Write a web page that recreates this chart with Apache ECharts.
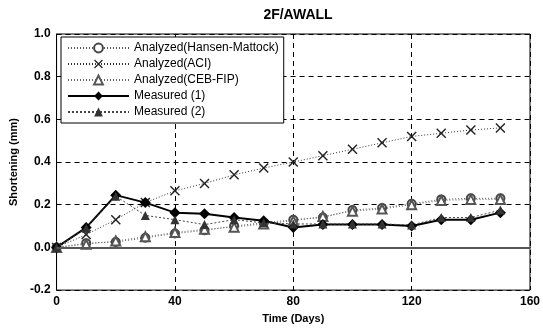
<!DOCTYPE html>
<html><head><meta charset="utf-8">
<script src="https://cdn.jsdelivr.net/npm/echarts@6/dist/echarts.min.js"></script>
<style>html,body{margin:0;padding:0;background:#fff}#c{width:543px;height:329px}</style>
</head><body><div id="c"></div>
<script>
var days = [0,10,20,30,40,50,60,70,80,90,100,110,120,130,140,150];
var hansen = [0,0.02,0.025,0.045,0.065,0.08,0.10,0.115,0.13,0.14,0.175,0.185,0.205,0.225,0.23,0.23];
var aci = [0,0.06,0.13,0.21,0.265,0.30,0.34,0.372,0.40,0.43,0.46,0.49,0.52,0.535,0.55,0.56];
var ceb = [0,0.015,0.03,0.05,0.07,0.085,0.095,0.11,0.125,0.145,0.17,0.18,0.2,0.22,0.225,0.225];
var meas1 = [0,0.093,0.245,0.21,0.163,0.158,0.14,0.125,0.093,0.107,0.107,0.107,0.10,0.13,0.13,0.163];
var meas2 = [0,0.09,0.24,0.15,0.13,0.107,0.13,0.115,0.11,0.11,0.11,0.11,0.105,0.14,0.14,0.175];
var seriesNames = ['Analyzed(Hansen-Mattock)','Analyzed(ACI)','Analyzed(CEB-FIP)','Measured (1)','Measured (2)'];
var yTicks = [-0.2,0,0.2,0.4,0.6,0.8,1.0];
var xTicks = [0,40,80,120,160];

function pairs(v){ return days.map(function(d,i){ return [d, v[i]]; }); }
var font = 'Liberation Sans, Arial, sans-serif';
var xPath = 'path://M0,1L1,0L5,4L9,0L10,1L6,5L10,9L9,10L5,6L1,10L0,9L4,5Z';

var chart = echarts.init(document.getElementById('c'));
chart.setOption({
  animation:false,
  backgroundColor:'#fff',
  title:{ text:'2F/AWALL', left:293, top:3, textAlign:'center',
    textStyle:{ fontFamily:font, fontSize:14, fontWeight:'bold', color:'#000' } },
  grid:{ left:54, right:11, top:34, bottom:34, show:true, borderColor:'#000', borderWidth:1 },
  legend:{ orient:'vertical', left:61, top:37,
    padding:[5,5,5,6], itemGap:4, itemWidth:61, itemHeight:11,
    backgroundColor:'#fff', borderColor:'#000', borderWidth:1,
    textStyle:{ fontFamily:font, fontSize:12, color:'#000' },
    data: seriesNames },
  xAxis:{ type:'value', min:xTicks[0], max:xTicks[xTicks.length-1], interval:40,
    name:'Time (Days)', nameLocation:'middle', nameGap:21,
    nameTextStyle:{ fontFamily:font, fontSize:11, fontWeight:'bold', color:'#000' },
    axisLine:{ lineStyle:{ color:'#000' } }, axisTick:{ show:false },
    axisLabel:{ fontFamily:font, fontSize:12, fontWeight:'bold', color:'#000', margin:6 },
    splitLine:{ show:true, lineStyle:{ color:'#000', type:[5,4], width:1 } } },
  yAxis:{ type:'value', min:yTicks[0], max:yTicks[yTicks.length-1], interval:0.2,
    name:'Shortening (mm)', nameLocation:'middle', nameGap:36, nameRotate:90,
    nameTextStyle:{ fontFamily:font, fontSize:11, fontWeight:'bold', color:'#000' },
    axisLine:{ show:true, lineStyle:{ color:'#000' } }, axisTick:{ show:false },
    axisLabel:{ fontFamily:font, fontSize:12, fontWeight:'bold', color:'#000', margin:6,
      formatter:function(v){ return v.toFixed(1); } },
    splitLine:{ show:true, lineStyle:{ color:'#000', type:[5,4], width:1 } } },
  series:[
    { name:seriesNames[0], type:'line', data:pairs(hansen), symbol:'emptyCircle', symbolSize:8,
      itemStyle:{ color:'#444', borderWidth:1.2 }, lineStyle:{ color:'#555', width:1, type:[1,2] },
      markLine:{ silent:true, symbol:'none', label:{show:false},
        lineStyle:{ color:'#555', width:2, type:'solid' }, data:[{ yAxis:0 }] } },
    { name:seriesNames[1], type:'line', data:pairs(aci), symbol:xPath, symbolSize:10,
      itemStyle:{ color:'#222' }, lineStyle:{ color:'#333', width:1, type:[1,2] } },
    { name:seriesNames[2], type:'line', data:pairs(ceb), symbol:'emptyTriangle', symbolSize:9,
      itemStyle:{ color:'#555', borderWidth:1.2 }, lineStyle:{ color:'#666', width:1, type:[1,2] } },
    { name:seriesNames[3], type:'line', data:pairs(meas1), symbol:'diamond', symbolSize:11,
      itemStyle:{ color:'#000' }, lineStyle:{ color:'#000', width:2, type:'solid' } },
    { name:seriesNames[4], type:'line', data:pairs(meas2), symbol:'triangle', symbolSize:9,
      itemStyle:{ color:'#333' }, lineStyle:{ color:'#444', width:1, type:[2,2] } }
  ]
});
</script></body></html>
